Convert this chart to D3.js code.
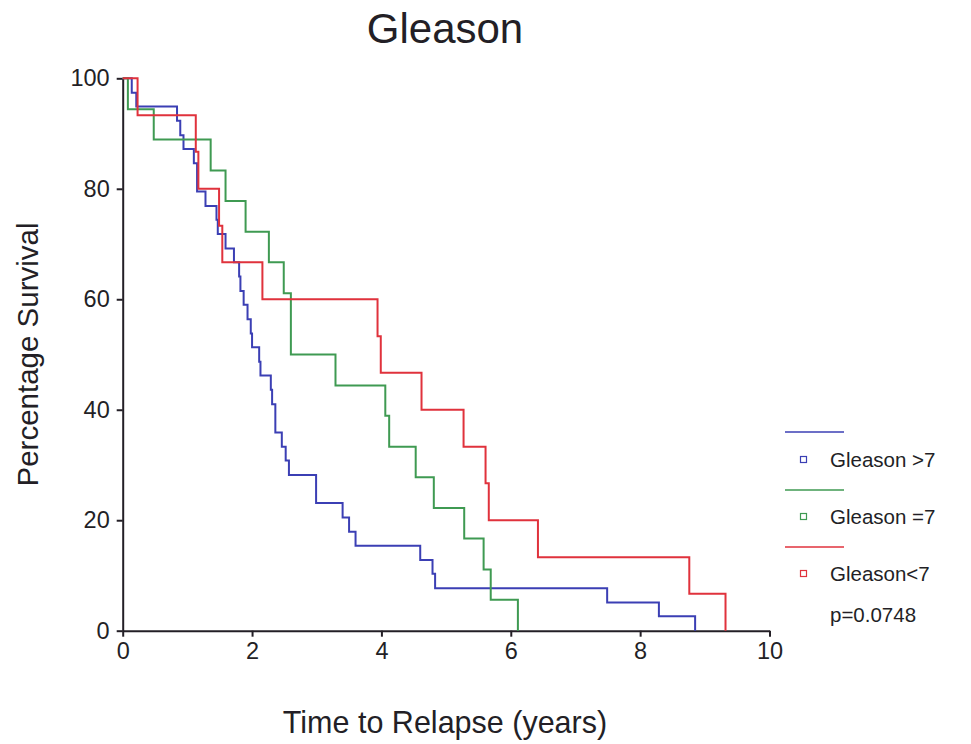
<!DOCTYPE html>
<html>
<head>
<meta charset="utf-8">
<script src="https://cdn.jsdelivr.net/npm/d3@7"></script>
<style>
  html, body { margin: 0; padding: 0; background: #fff; }
  svg { display: block; font-family: "Liberation Sans", Arial, sans-serif; }
</style>
</head>
<body>
<svg id="chart" width="971" height="744"></svg>
<script>
// Kaplan-Meier step data: time to relapse (years) and percentage surviving
const blueTimes = [0, 0.14, 0.21, 0.84, 0.89, 0.94, 1.10, 1.15, 1.28, 1.45, 1.47, 1.59, 1.72, 1.80, 1.82, 1.87, 1.93, 1.98, 2.00, 2.11, 2.13, 2.29, 2.31, 2.36, 2.46, 2.52, 2.57, 2.99, 3.40, 3.50, 3.60, 4.60, 4.79, 4.83, 7.49, 8.29, 8.85];
const blueSurvival = [100, 97.4, 94.9, 92.3, 89.7, 87.2, 84.6, 79.5, 76.9, 74.4, 71.8, 69.2, 66.7, 64.1, 61.5, 59.0, 56.4, 53.8, 51.3, 48.7, 46.2, 43.6, 41.0, 35.9, 33.3, 30.8, 28.2, 23.1, 20.5, 17.9, 15.4, 12.8, 10.3, 7.7, 5.1, 2.6, 0];

const greenTimes = [0, 0.08, 0.48, 1.36, 1.59, 1.90, 2.26, 2.49, 2.60, 3.29, 4.06, 4.12, 4.53, 4.81, 5.28, 5.58, 5.69, 6.11];
const greenSurvival = [100, 94.4, 88.9, 83.3, 77.8, 72.2, 66.7, 61.1, 50.0, 44.4, 38.9, 33.3, 27.8, 22.2, 16.7, 11.1, 5.6, 0];

const redTimes = [0, 0.23, 1.13, 1.17, 1.49, 1.54, 2.16, 3.94, 3.99, 4.62, 5.27, 5.61, 5.66, 6.42, 8.76, 9.32];
const redSurvival = [100, 93.3, 86.7, 80.0, 73.3, 66.7, 60.0, 53.3, 46.7, 40.0, 33.3, 26.7, 20.0, 13.3, 6.7, 0];

const seriesNames = ["Gleason >7", "Gleason =7", "Gleason<7"];
const seriesColors = ["#3b3fb4", "#3f9a52", "#e0323c"];
const xTicks = [0, 2, 4, 6, 8, 10];
const yTicks = [0, 20, 40, 60, 80, 100];
const pValueText = "p=0.0748";

const series = [
  { name: seriesNames[0], color: seriesColors[0], t: blueTimes, s: blueSurvival },
  { name: seriesNames[1], color: seriesColors[1], t: greenTimes, s: greenSurvival },
  { name: seriesNames[2], color: seriesColors[2], t: redTimes, s: redSurvival }
];

const ink = "#231f26";
const svg = d3.select("#chart");

const x = d3.scaleLinear().domain([0, 10]).range([122.7, 769.5]);
const y = d3.scaleLinear().domain([0, 100]).range([630.7, 78.3]);

// Title
svg.append("text")
  .attr("x", 445).attr("y", 43)
  .attr("text-anchor", "middle")
  .attr("font-size", 42)
  .attr("fill", ink)
  .text("Gleason");

// Axes
const xAxis = svg.append("g")
  .attr("transform", `translate(0,${y(0)})`)
  .call(d3.axisBottom(x).tickValues(xTicks).tickFormat(d3.format("d")).tickSize(6).tickSizeOuter(0).tickPadding(6));
const yAxis = svg.append("g")
  .attr("transform", `translate(${x(0)},0)`)
  .call(d3.axisLeft(y).tickValues(yTicks).tickFormat(d3.format("d")).tickSize(6).tickSizeOuter(0).tickPadding(7));

[xAxis, yAxis].forEach(g => {
  g.selectAll(".domain").attr("stroke", ink).attr("stroke-width", 2);
  g.selectAll(".tick line").attr("stroke", ink).attr("stroke-width", 2);
  g.selectAll(".tick text").attr("fill", ink).attr("font-size", 23.5)
    .attr("font-family", "Liberation Sans, Arial, sans-serif");
});

// Axis titles
svg.append("text")
  .attr("x", 445).attr("y", 733)
  .attr("text-anchor", "middle")
  .attr("font-size", 30.5)
  .attr("fill", ink)
  .text("Time to Relapse (years)");

svg.append("text")
  .attr("transform", `translate(38,${(y(0) + y(100)) / 2}) rotate(-90)`)
  .attr("text-anchor", "middle")
  .attr("font-size", 29.5)
  .attr("fill", ink)
  .text("Percentage Survival");

// Survival curves
const line = d3.line()
  .x(d => x(d[0]))
  .y(d => y(d[1]))
  .curve(d3.curveStepAfter);

series.forEach(sr => {
  const pts = sr.t.map((t, i) => [t, sr.s[i]]);
  svg.append("path")
    .datum(pts)
    .attr("d", line)
    .attr("fill", "none")
    .attr("stroke", sr.color)
    .attr("stroke-width", 2);
});

// Legend
const legendLineY = [432, 490, 547];
const legendTextY = [467, 524, 581];
series.forEach((sr, i) => {
  svg.append("line")
    .attr("x1", 785).attr("x2", 844)
    .attr("y1", legendLineY[i]).attr("y2", legendLineY[i])
    .attr("stroke", sr.color).attr("stroke-width", 1.5);
  svg.append("rect")
    .attr("x", 800.5).attr("y", legendTextY[i] - 10.5)
    .attr("width", 6).attr("height", 6)
    .attr("fill", "none")
    .attr("stroke", sr.color).attr("stroke-width", 1.2);
  svg.append("text")
    .attr("x", 830).attr("y", legendTextY[i])
    .attr("font-size", 20.5)
    .attr("fill", ink)
    .text(sr.name);
});

svg.append("text")
  .attr("x", 830).attr("y", 622)
  .attr("font-size", 20.5)
  .attr("fill", ink)
  .text(pValueText);
</script>
</body>
</html>
